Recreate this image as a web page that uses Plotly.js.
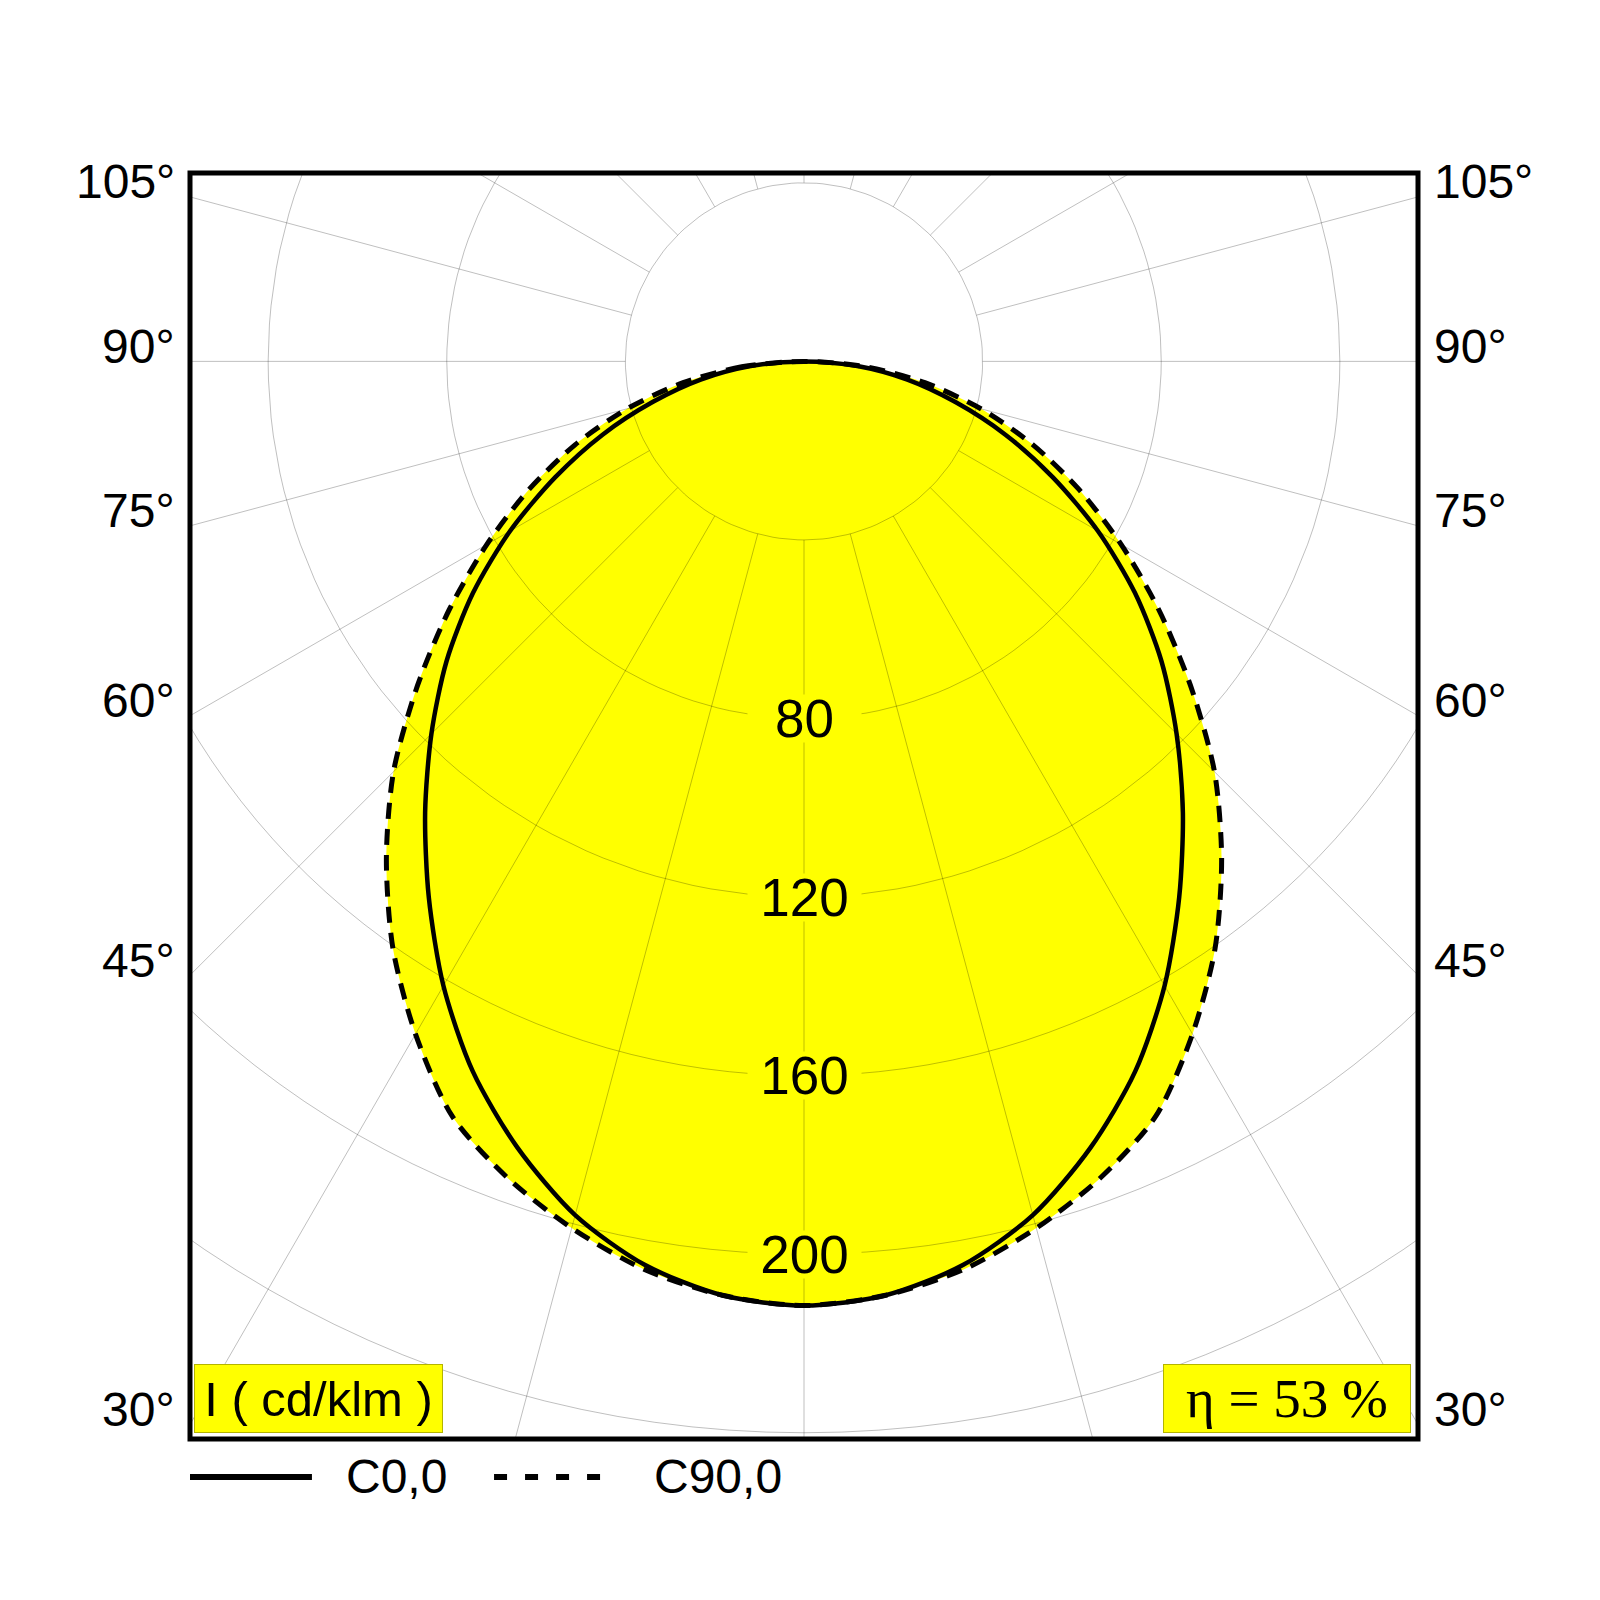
<!DOCTYPE html>
<html>
<head>
<meta charset="utf-8">
<script src="https://cdn.plot.ly/plotly-3.0.1.min.js"></script>
<style>
  html, body { margin: 0; padding: 0; background: #ffffff; }
  #ldc { width: 1600px; height: 1600px; }
</style>
</head>
<body>
<div id="ldc"></div>
<script>
// gamma angles (deg, 0 = straight down) and intensities in cd/klm
const gammaDeg = [0, 5, 10, 15, 20, 25, 30, 35, 40, 45, 50, 55, 60, 65, 70, 75, 80, 85, 90];
const intensityC0 = [211.5, 210, 205.5, 198, 187.5, 175.5, 161.5, 146.5, 132, 118, 104.5, 90.5, 76, 61.5, 48, 35, 23.5, 12, 0];
const intensityC90 = [211.5, 210, 206.5, 201, 194.5, 186.5, 174, 160.5, 145.5, 130, 113, 97, 82, 68, 54.5, 41, 27.5, 14, 0];

const curveNames = ['C0,0', 'C90,0'];
const efficiencyText = 'η = 53 %';
const unitText = 'I ( cd/klm )';

// polar grid
const ringValues = [40, 80, 120, 160, 200, 240];
const ringLabelValues = [80, 120, 160, 200];
const spokeAngles = [0, 15, 30, 45, 60, 75, 90, 105, 120, 135, 150, 165, 180, 195, 210, 225, 240, 255, 270, 285, 300, 315, 330, 345];
const sideAngleTicks = [105, 90, 75, 60, 45, 30];

// visible window in cd/klm units (center of the diagram at 0,0)
const xHalf = 137.5;
const yTop = 42.2;
const yBottom = -241.4;

const rad = d => d * Math.PI / 180;

// outline of one C-plane: left half mirrored, then right half
const outline = (gammas, values) => {
    const xs = [];
    const ys = [];
    for (let i = gammas.length - 1; i >= 0; i--) {
        xs.push(-values[i] * Math.sin(rad(gammas[i])));
        ys.push(-values[i] * Math.cos(rad(gammas[i])));
    }
    for (let i = 1; i < gammas.length; i++) {
        xs.push(values[i] * Math.sin(rad(gammas[i])));
        ys.push(-values[i] * Math.cos(rad(gammas[i])));
    }
    return { x: xs, y: ys };
};

const c0 = outline(gammaDeg, intensityC0);
const c90 = outline(gammaDeg, intensityC90);

// rings and spokes as one line trace
const gridX = [];
const gridY = [];
ringValues.forEach((r) => {
    for (let a = 0; a <= 360; a += 2) {
        gridX.push(r * Math.sin(rad(a)));
        gridY.push(-r * Math.cos(rad(a)));
    }
    gridX.push(null);
    gridY.push(null);
});
spokeAngles.forEach((a) => {
    [ringValues[0], 320].forEach((r) => {
        gridX.push(r * Math.sin(rad(a)));
        gridY.push(-r * Math.cos(rad(a)));
    });
    gridX.push(null);
    gridY.push(null);
});

const YELLOW = '#ffff00';
const FONT = 'Liberation Sans, Arial, sans-serif';

const data = [
    {
        x: c90.x, y: c90.y, mode: 'lines', fill: 'toself', fillcolor: YELLOW,
        line: { width: 0, shape: 'spline', smoothing: 0.8 }, hoverinfo: 'skip',
    },
    {
        x: c0.x, y: c0.y, mode: 'lines', fill: 'toself', fillcolor: YELLOW,
        line: { width: 0, shape: 'spline', smoothing: 0.8 }, hoverinfo: 'skip',
    },
    {
        x: gridX, y: gridY, mode: 'lines', connectgaps: false,
        line: { color: 'rgba(0,0,0,0.25)', width: 1 }, hoverinfo: 'skip',
    },
    {
        x: c0.x, y: c0.y, mode: 'lines', name: curveNames[0],
        line: { color: '#000000', width: 4.5, shape: 'spline', smoothing: 0.8 },
    },
    {
        x: c90.x, y: c90.y, mode: 'lines', name: curveNames[1],
        line: { color: '#000000', width: 5, dash: '16px,10px', shape: 'spline', smoothing: 0.8 },
    },
];

const annotations = [];
// intensity values on the downward axis
ringLabelValues.forEach((v) => {
    annotations.push({
        xref: 'x', yref: 'y', x: 0, y: -v,
        xanchor: 'center', yanchor: 'middle',
        text: String(v), showarrow: false,
        width: 113, height: 47, bgcolor: YELLOW, borderpad: 0,
        font: { family: FONT, size: 53, color: '#000000' },
    });
});
// gamma labels on both sides of the frame
sideAngleTicks.forEach((a) => {
    const yAt = -xHalf * Math.cos(rad(a)) / Math.sin(rad(a));
    [[0, 'right', -13], [1, 'left', 14]].forEach(([px, anchor, shift]) => {
        annotations.push({
            xref: 'paper', yref: 'y', x: px, y: yAt,
            xanchor: anchor, yanchor: 'middle', xshift: shift, yshift: 15,
            text: `${a}°`, showarrow: false,
            font: { family: FONT, size: 48, color: '#000000' },
        });
    });
});
// unit and efficiency boxes
annotations.push({
    xref: 'paper', yref: 'paper', x: 0.1046, y: 0.032,
    xanchor: 'center', yanchor: 'middle',
    text: unitText, showarrow: false,
    width: 247, height: 67, borderpad: 0, borderwidth: 1,
    bgcolor: YELLOW, bordercolor: '#b4b400',
    font: { family: FONT, size: 49, color: '#000000' },
});
annotations.push({
    xref: 'paper', yref: 'paper', x: 0.8933, y: 0.032,
    xanchor: 'center', yanchor: 'middle',
    text: efficiencyText, showarrow: false,
    width: 246, height: 67, borderpad: 0, borderwidth: 1,
    bgcolor: YELLOW, bordercolor: '#b4b400',
    font: { family: 'Liberation Serif, Times New Roman, serif', size: 55, color: '#000000' },
});
// legend texts
annotations.push({
    xref: 'paper', yref: 'paper', x: 0.1254, y: -0.030,
    xanchor: 'left', yanchor: 'middle', text: curveNames[0], showarrow: false,
    font: { family: FONT, size: 48, color: '#000000' },
});
annotations.push({
    xref: 'paper', yref: 'paper', x: 0.3762, y: -0.030,
    xanchor: 'left', yanchor: 'middle', text: curveNames[1], showarrow: false,
    font: { family: FONT, size: 48, color: '#000000' },
});

const shapes = [
    // frame
    {
        type: 'rect', xref: 'paper', yref: 'paper', x0: 0, y0: 0, x1: 1, y1: 1,
        line: { color: '#000000', width: 5 }, layer: 'above',
    },
    // legend samples
    {
        type: 'line', xref: 'paper', yref: 'paper', x0: 0, x1: 0.0993, y0: -0.030, y1: -0.030,
        line: { color: '#000000', width: 6 },
    },
    {
        type: 'line', xref: 'paper', yref: 'paper', x0: 0.2476, x1: 0.3355, y0: -0.030, y1: -0.030,
        line: { color: '#000000', width: 6, dash: '13px,18px' },
    },
];

const axisBase = {
    showgrid: false, zeroline: false, showticklabels: false, ticks: '',
    showline: false, fixedrange: true, autorange: false,
};

const layout = {
    width: 1600,
    height: 1600,
    showlegend: false,
    paper_bgcolor: '#ffffff',
    plot_bgcolor: '#ffffff',
    margin: { l: 190, r: 182, t: 173, b: 161, pad: 0 },
    xaxis: { ...axisBase, range: [-xHalf, xHalf] },
    yaxis: { ...axisBase, range: [yBottom, yTop] },
    annotations,
    shapes,
    hovermode: false,
};

try {
    Plotly.newPlot('ldc', data, layout, { displayModeBar: false, staticPlot: true });
} catch (e) {
    console.log(e);
}
</script>
</body>
</html>
